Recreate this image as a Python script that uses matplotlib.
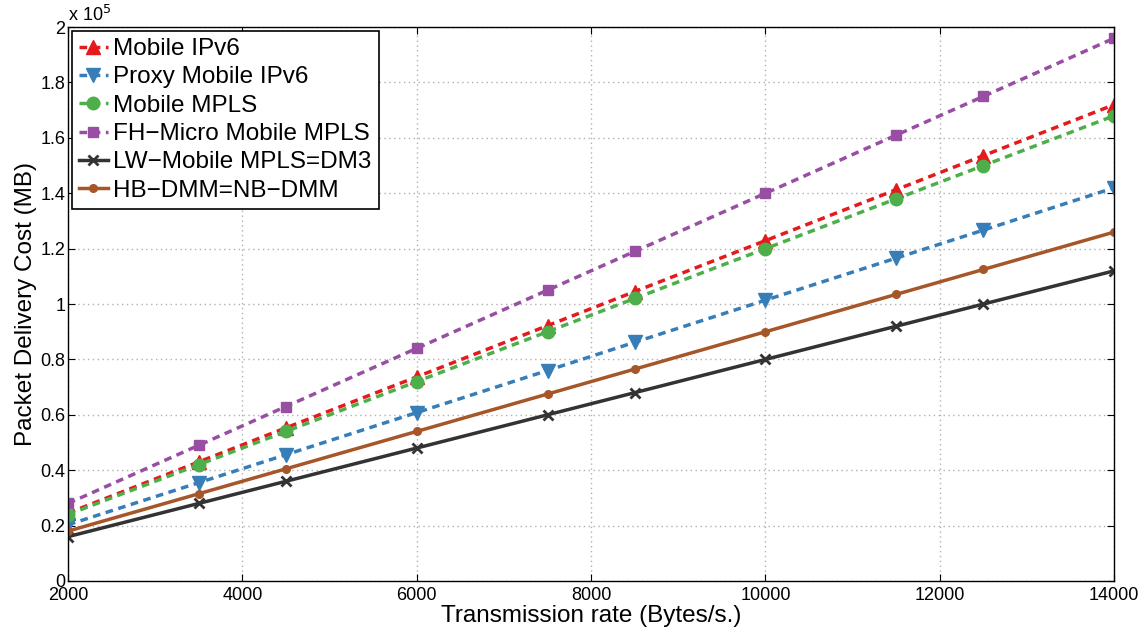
import numpy as np
import matplotlib.pyplot as plt
from matplotlib.ticker import FuncFormatter

plt.rcParams['font.family'] = ['Liberation Sans', 'DejaVu Sans']

rate = [2000, 3500, 4500, 6000, 7500, 8500, 10000, 11500, 12500, 14000]

mipv6 = [0.245, 0.43, 0.553, 0.737, 0.922, 1.045, 1.229, 1.413, 1.536, 1.72]
pmipv6 = [0.203, 0.355, 0.456, 0.608, 0.76, 0.862, 1.014, 1.166, 1.267, 1.42]
mmpls = [0.24, 0.42, 0.54, 0.72, 0.90, 1.02, 1.20, 1.38, 1.50, 1.68]
fh_mmpls = [0.28, 0.49, 0.63, 0.84, 1.05, 1.19, 1.40, 1.61, 1.75, 1.96]
lw_mmpls = [0.16, 0.28, 0.36, 0.48, 0.60, 0.68, 0.80, 0.92, 1.00, 1.12]
hb_dmm = [0.18, 0.315, 0.405, 0.54, 0.675, 0.765, 0.90, 1.035, 1.125, 1.26]

labels = ['Mobile IPv6', 'Proxy Mobile IPv6', 'Mobile MPLS', 'FH\u2212Micro Mobile MPLS',
          'LW\u2212Mobile MPLS=DM3', 'HB\u2212DMM=NB\u2212DMM']

fig = plt.figure(figsize=(11.44, 6.3), dpi=100)
ax = fig.add_axes([0.0594, 0.0778, 0.9146, 0.8792])

dash = (0, (2.2, 1.6))
series = [
    (mipv6, '#e41a1c', dash, '^', 10),
    (pmipv6, '#377eb8', dash, 'v', 10),
    (mmpls, '#4daf4a', dash, 'o', 9),
    (fh_mmpls, '#984ea3', dash, 's', 6.5),
    (lw_mmpls, '#333333', '-', 'x', 6.5),
    (hb_dmm, '#a65628', '-', 'o', 5.5),
]
for (vals, col, ls, mk, ms), lab in zip(series, labels):
    y = np.array(vals) * 1e5
    kw = dict(markeredgewidth=2) if mk == 'x' else {}
    ax.plot(rate, y, color=col, linestyle=ls, linewidth=2.5, marker=mk,
            markersize=ms, label=lab, **kw)

ax.set_xlim(2000, 14000)
ax.set_ylim(0, 2e5)
ax.set_xticks(np.arange(2000, 14001, 2000))
ax.set_yticks(np.arange(0, 2.01e5, 0.2e5))
ax.yaxis.set_major_formatter(FuncFormatter(lambda v, p: '%g' % round(v / 1e5, 1)))
ax.tick_params(direction='in', labelsize=13, length=5, top=True, right=True)
ax.tick_params(axis='x', pad=4)
ax.tick_params(axis='y', pad=2)
ax.grid(True, linestyle=(0, (1, 2.5)), color='#b0b0b0', linewidth=1)
for s in ax.spines.values():
    s.set_linewidth(1)

ax.set_xlabel('Transmission rate (Bytes/s.)', fontsize=17.5, labelpad=1)
ax.set_ylabel('Packet Delivery Cost (MB)', fontsize=17.5, labelpad=2)
ax.text(0.0, 1.004, r'x 10$^{5}$', transform=ax.transAxes, fontsize=13,
        ha='left', va='bottom')

leg = ax.legend(loc='upper left', fontsize=17.5, frameon=True, fancybox=False,
                borderpad=0.3, labelspacing=0.26, handlelength=1.2,
                handletextpad=0.2, borderaxespad=0.15)
leg.get_frame().set_edgecolor('black')
leg.get_frame().set_linewidth(1.2)
leg.get_frame().set_alpha(1)

fig.savefig('out.png', dpi=100)
